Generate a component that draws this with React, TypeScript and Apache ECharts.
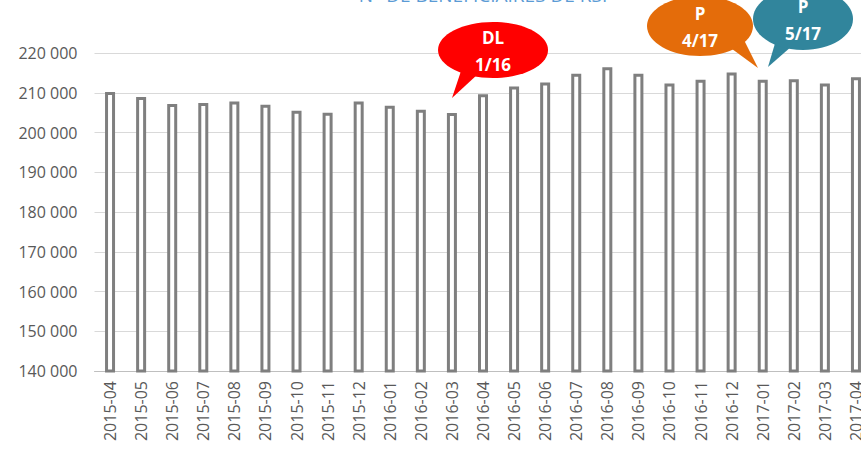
import React, { useEffect, useRef } from "react";
import * as echarts from "echarts";

const categories = [
  "2015-04", "2015-05", "2015-06", "2015-07", "2015-08", "2015-09", "2015-10", "2015-11", "2015-12",
  "2016-01", "2016-02", "2016-03", "2016-04", "2016-05", "2016-06", "2016-07", "2016-08", "2016-09",
  "2016-10", "2016-11", "2016-12", "2017-01", "2017-02", "2017-03", "2017-04",
];
const beneficiaries = [
  210200, 208900, 207200, 207400, 207800, 207000, 205500, 205000, 207800,
  206700, 205700, 204900, 209600, 211600, 212600, 214800, 216400, 214800,
  212300, 213300, 215100, 213300, 213400, 212300, 213900,
];
const yMin = 140000;
const yMax = 220000;
const yStep = 10000;
const titleText = "N° DE BÉNÉFICIAIRES DE RSI";
const callouts = [
  { line1: "DL", line2: "1/16", color: "#ff0000", cx: 493, cy: 50, rx: 55, ry: 28, tail: [[462, 68], [478, 74], [452, 98]] },
  { line1: "P", line2: "4/17", color: "#e46c0a", cx: 700, cy: 26, rx: 53, ry: 30, tail: [[728, 46], [744, 40], [758, 68]] },
  { line1: "P", line2: "5/17", color: "#31859c", cx: 803, cy: 19, rx: 50, ry: 31, tail: [[776, 40], [792, 46], [768, 67]] },
];

const FONT = "'Open Sans', 'Noto Sans', sans-serif";

export default function App() {
  const ref = useRef<HTMLDivElement>(null);
  useEffect(() => {
    if (!ref.current) return;
    const chart = echarts.init(ref.current, null, { renderer: "svg" });
    const graphics: any[] = [
      {
        type: "text",
        x: 483,
        y: 4,
        style: {
          text: titleText,
          fill: "#5b9bd5",
          font: `19px ${FONT}`,
          textAlign: "center",
          textVerticalAlign: "bottom",
        },
        z: 10,
      },
    ];
    callouts.forEach((c) => {
      graphics.push({
        type: "polygon",
        shape: { points: c.tail },
        style: { fill: c.color },
        z: 10,
      });
      graphics.push({
        type: "ellipse",
        shape: { cx: c.cx, cy: c.cy, rx: c.rx, ry: c.ry },
        style: { fill: c.color },
        z: 10,
      });
      graphics.push({
        type: "text",
        x: c.cx,
        y: c.cy - 13,
        style: {
          text: c.line1,
          fill: "#ffffff",
          font: `bold 17px ${FONT}`,
          textAlign: "center",
          textVerticalAlign: "middle",
        },
        z: 11,
      });
      graphics.push({
        type: "text",
        x: c.cx,
        y: c.cy + 14,
        style: {
          text: c.line2,
          fill: "#ffffff",
          font: `bold 17px ${FONT}`,
          textAlign: "center",
          textVerticalAlign: "middle",
        },
        z: 11,
      });
    });
    chart.setOption({
      animation: false,
      backgroundColor: "#ffffff",
      grid: { left: 94.5, top: 53, width: 777, height: 318, containLabel: false },
      xAxis: {
        type: "category",
        data: categories,
        axisTick: { show: false },
        axisLine: { lineStyle: { color: "#bfbfbf", width: 1 } },
        axisLabel: {
          rotate: 90,
          interval: 0,
          color: "#595959",
          fontFamily: FONT,
          fontSize: 16,
          margin: 10,
        },
      },
      yAxis: {
        type: "value",
        min: yMin,
        max: yMax,
        interval: yStep,
        axisLine: { show: false },
        axisTick: { show: false },
        splitLine: { lineStyle: { color: "#d9d9d9", width: 1 } },
        axisLabel: {
          color: "#595959",
          fontFamily: FONT,
          fontSize: 16,
          margin: 17,
          formatter: (v: number) => String(v).replace(/\B(?=(\d{3})+(?!\d))/g, " "),
        },
      },
      series: [
        {
          type: "bar",
          data: beneficiaries,
          barWidth: 10,
          itemStyle: { color: "#ffffff", borderColor: "#7f7f7f", borderWidth: 3 },
        },
      ],
      graphic: graphics,
    });
    return () => chart.dispose();
  }, []);
  return (
    <div
      style={{
        position: "fixed",
        left: 0,
        top: 0,
        width: 861,
        height: 457,
        overflow: "hidden",
        background: "#ffffff",
      }}
    >
      <div ref={ref} style={{ width: 880, height: 457 }} />
    </div>
  );
}
